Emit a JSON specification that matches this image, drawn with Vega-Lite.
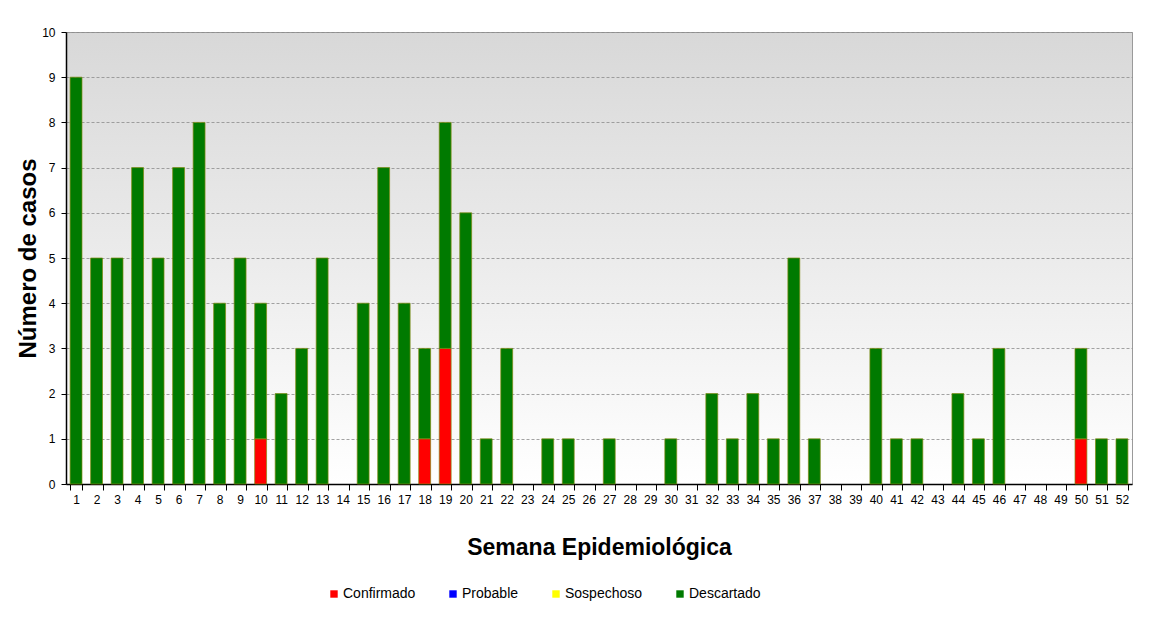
{
  "$schema": "https://vega.github.io/schema/vega-lite/v6.json",
  "autosize": {"type": "none"},
  "width": 1066,
  "height": 452,
  "padding": {"left": 66, "top": 32, "right": 39, "bottom": 133},
  "background": "#ffffff",
  "config": {
    "font": "Liberation Sans",
    "view": {
      "stroke": "#9a9a9a",
      "strokeWidth": 1,
      "fill": {
        "gradient": "linear",
        "x1": 0, "y1": 0, "x2": 0, "y2": 1,
        "stops": [
          {"offset": 0, "color": "#d8d8d8"},
          {"offset": 1, "color": "#ffffff"}
        ]
      }
    }
  },
  "data": {
    "values": [
      {"semana": 1, "estado": "Descartado", "casos": 9},
      {"semana": 2, "estado": "Descartado", "casos": 5},
      {"semana": 3, "estado": "Descartado", "casos": 5},
      {"semana": 4, "estado": "Descartado", "casos": 7},
      {"semana": 5, "estado": "Descartado", "casos": 5},
      {"semana": 6, "estado": "Descartado", "casos": 7},
      {"semana": 7, "estado": "Descartado", "casos": 8},
      {"semana": 8, "estado": "Descartado", "casos": 4},
      {"semana": 9, "estado": "Descartado", "casos": 5},
      {"semana": 10, "estado": "Confirmado", "casos": 1},
      {"semana": 10, "estado": "Descartado", "casos": 3},
      {"semana": 11, "estado": "Descartado", "casos": 2},
      {"semana": 12, "estado": "Descartado", "casos": 3},
      {"semana": 13, "estado": "Descartado", "casos": 5},
      {"semana": 15, "estado": "Descartado", "casos": 4},
      {"semana": 16, "estado": "Descartado", "casos": 7},
      {"semana": 17, "estado": "Descartado", "casos": 4},
      {"semana": 18, "estado": "Confirmado", "casos": 1},
      {"semana": 18, "estado": "Descartado", "casos": 2},
      {"semana": 19, "estado": "Confirmado", "casos": 3},
      {"semana": 19, "estado": "Descartado", "casos": 5},
      {"semana": 20, "estado": "Descartado", "casos": 6},
      {"semana": 21, "estado": "Descartado", "casos": 1},
      {"semana": 22, "estado": "Descartado", "casos": 3},
      {"semana": 24, "estado": "Descartado", "casos": 1},
      {"semana": 25, "estado": "Descartado", "casos": 1},
      {"semana": 27, "estado": "Descartado", "casos": 1},
      {"semana": 30, "estado": "Descartado", "casos": 1},
      {"semana": 32, "estado": "Descartado", "casos": 2},
      {"semana": 33, "estado": "Descartado", "casos": 1},
      {"semana": 34, "estado": "Descartado", "casos": 2},
      {"semana": 35, "estado": "Descartado", "casos": 1},
      {"semana": 36, "estado": "Descartado", "casos": 5},
      {"semana": 37, "estado": "Descartado", "casos": 1},
      {"semana": 40, "estado": "Descartado", "casos": 3},
      {"semana": 41, "estado": "Descartado", "casos": 1},
      {"semana": 42, "estado": "Descartado", "casos": 1},
      {"semana": 44, "estado": "Descartado", "casos": 2},
      {"semana": 45, "estado": "Descartado", "casos": 1},
      {"semana": 46, "estado": "Descartado", "casos": 3},
      {"semana": 50, "estado": "Confirmado", "casos": 1},
      {"semana": 50, "estado": "Descartado", "casos": 2},
      {"semana": 51, "estado": "Descartado", "casos": 1},
      {"semana": 52, "estado": "Descartado", "casos": 1}
    ]
  },
  "mark": {"type": "bar", "stroke": "#7f8a10", "strokeWidth": 0.7},
  "encoding": {
    "x": {
      "field": "semana",
      "type": "ordinal",
      "scale": {
        "domain": [1,2,3,4,5,6,7,8,9,10,11,12,13,14,15,16,17,18,19,20,21,22,23,24,25,26,27,28,29,30,31,32,33,34,35,36,37,38,39,40,41,42,43,44,45,46,47,48,49,50,51,52],
        "paddingInner": 0.42,
        "paddingOuter": 0.2
      },
      "axis": {
        "title": "Semana Epidemiológica",
        "titleFontSize": 23,
        "titleFontWeight": "bold",
        "titleColor": "#000000",
        "titlePadding": 31,
        "labelAngle": 0,
        "labelFontSize": 12,
        "labelColor": "#000000",
        "labelPadding": 4,
        "tickBand": "extent",
        "tickColor": "#000000",
        "tickSize": 6,
        "domainColor": "#000000",
        "domainWidth": 1.5,
        "grid": false
      }
    },
    "y": {
      "aggregate": "sum",
      "field": "casos",
      "type": "quantitative",
      "stack": "zero",
      "scale": {"domain": [0, 10]},
      "axis": {
        "title": "Número de casos",
        "titleFontSize": 24,
        "titleFontWeight": "bold",
        "titleColor": "#000000",
        "titlePadding": 1,
        "values": [0,1,2,3,4,5,6,7,8,9,10],
        "labelOverlap": false,
        "labelFontSize": 12,
        "labelColor": "#000000",
        "labelPadding": 6,
        "tickColor": "#000000",
        "tickSize": 5,
        "domainColor": "#000000",
        "domainWidth": 1.5,
        "grid": true,
        "gridColor": "#8c8c8c",
        "gridDash": [3, 2],
        "gridWidth": 0.8
      }
    },
    "color": {
      "field": "estado",
      "type": "nominal",
      "scale": {
        "domain": ["Confirmado", "Probable", "Sospechoso", "Descartado"],
        "range": ["#ff0000", "#0000ff", "#ffff00", "#007a00"]
      },
      "legend": {
        "title": null,
        "orient": "none",
        "direction": "horizontal",
        "legendX": 261,
        "legendY": 555,
        "symbolType": "square",
        "symbolSize": 55,
        "symbolStrokeWidth": 0,
        "labelFontSize": 14,
        "labelColor": "#000000",
        "labelOffset": 2,
        "columnPadding": 30
      }
    },
    "order": {"field": "estado", "sort": "ascending"}
  }
}
